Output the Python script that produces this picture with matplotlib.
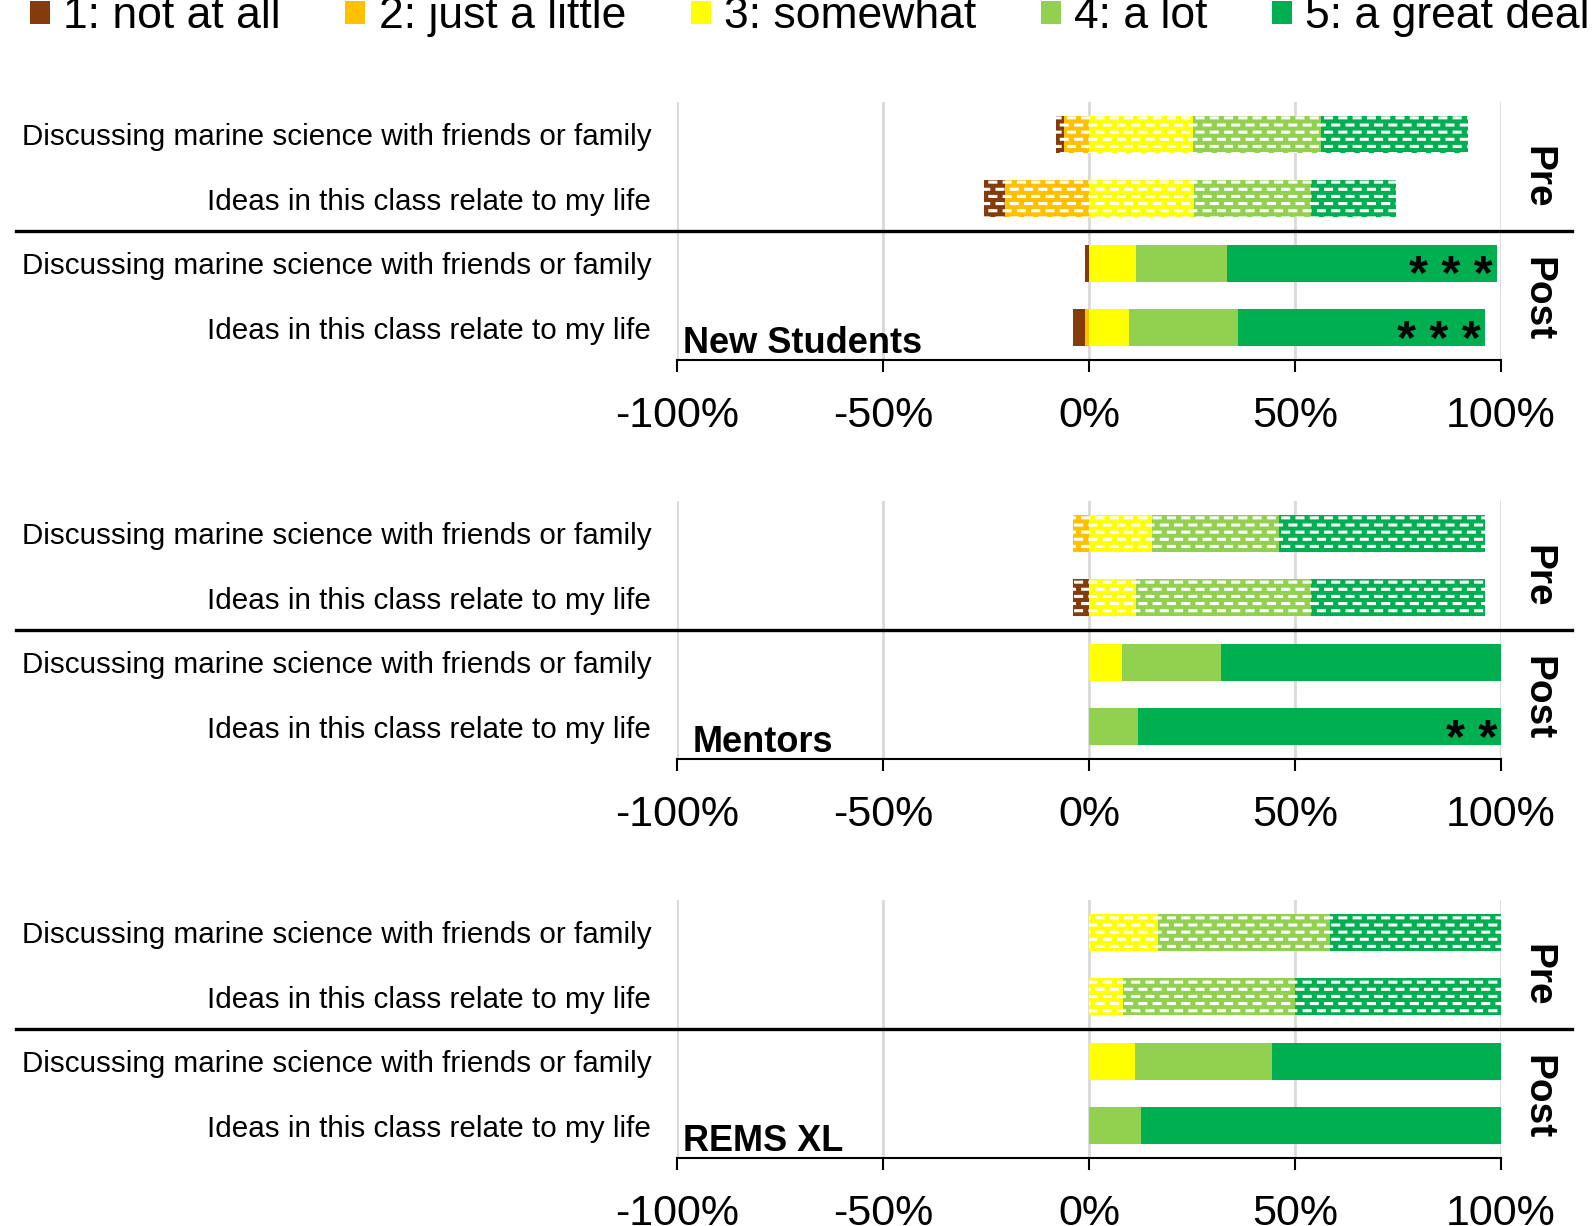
import numpy as np
import matplotlib
matplotlib.use("Agg")
import matplotlib.pyplot as plt
import matplotlib.hatch as mhatch
import matplotlib.transforms as mtransforms
from matplotlib.patches import Patch
from matplotlib.path import Path

# ---------------- data ----------------
levels = ["1: not at all", "2: just a little", "3: somewhat", "4: a lot", "5: a great deal"]
level_colors = ["#843C0C", "#FFC000", "#FFFF00", "#92D050", "#00B050"]
items = ["Discussing marine science with friends or family",
         "Ideas in this class relate to my life"]
phases = ["Pre", "Post"]
groups = ["New Students", "Mentors", "REMS XL"]

# percent of responses per level (1..5) for [Discussing, Ideas]
new_students_pre = [[1.9, 6.0, 25.3, 31.0, 35.8], [4.9, 20.5, 25.5, 28.3, 20.7]]
new_students_post = [[1.0, 0.0, 11.4, 22.1, 65.5], [2.9, 1.0, 9.8, 26.4, 59.9]]
mentors_pre = [[0.0, 3.8, 15.4, 30.8, 50.0], [3.8, 0.0, 11.5, 42.3, 42.3]]
mentors_post = [[0.0, 0.0, 8.0, 24.0, 68.0], [0.0, 0.0, 0.0, 12.0, 88.0]]
rems_pre = [[0.0, 0.0, 16.7, 41.7, 41.7], [0.0, 0.0, 8.3, 41.7, 50.0]]
rems_post = [[0.0, 0.0, 11.1, 33.3, 55.6], [0.0, 0.0, 0.0, 12.5, 87.5]]

new_students_sig = ["", "", "***", "***"]
mentors_sig = ["", "", "", "**"]
rems_sig = ["", "", "", ""]

xticks = [-100, -50, 0, 50, 100]
xtick_labels = ["-100%", "-50%", "0%", "50%", "100%"]

panels = [
    (groups[0], new_students_pre, new_students_post, new_students_sig),
    (groups[1], mentors_pre, mentors_post, mentors_sig),
    (groups[2], rems_pre, rems_post, rems_sig),
]


# ---------------- custom dashed "brick" hatch (replaces 'o') ----------------
class BrickDashes(mhatch.HatchPatternBase):
    ROWS = 14
    COLS = 7
    L = 0.42

    def __init__(self, hatch, density):
        self.on = "o" in hatch
        R, C = self.ROWS, self.COLS
        self.num_vertices = 2 * ((R // 2) * C + (R // 2) * (C + 1)) if self.on else 0

    def set_vertices_and_codes(self, vertices, codes):
        R, C, L = self.ROWS, self.COLS, self.L
        segs = []
        for r in range(R):
            y = (r + 0.5) / R
            if r % 2 == 0:
                for c in range(C):
                    x0 = (c + (1 - L) / 2) / C
                    segs.append((x0, x0 + L / C, y))
            else:
                for c in range(C - 1):
                    x0 = (c + 0.5 + (1 - L) / 2) / C
                    segs.append((x0, x0 + L / C, y))
                segs.append((0.0, (L / 2) / C, y))
                segs.append(((C - L / 2) / C, 1.0, y))
        segs = np.array(segs)
        vertices[0::2, 0] = segs[:, 0]
        vertices[0::2, 1] = segs[:, 2]
        vertices[1::2, 0] = segs[:, 1]
        vertices[1::2, 1] = segs[:, 2]
        codes[0::2] = Path.MOVETO
        codes[1::2] = Path.LINETO


mhatch._hatch_types = [BrickDashes if t is mhatch.SmallCircles else t
                       for t in mhatch._hatch_types]

plt.rcParams["font.family"] = ["Liberation Sans", "DejaVu Sans"]
plt.rcParams["hatch.color"] = "white"
plt.rcParams["hatch.linewidth"] = 2.2

W, H = 1595, 1226
fig = plt.figure(figsize=(W / 100, H / 100), dpi=100)

ax_left, ax_right = 677, 1501
ax_h = 258
tops = [102, 501, 900]
bar_h = 0.57
title_x = [-98.5, -96.3, -98.5]

for p, (gname, pre, post, sig) in enumerate(panels):
    top = tops[p]
    ax = fig.add_axes([ax_left / W, 1 - (top + ax_h) / H, (ax_right - ax_left) / W, ax_h / H])
    rows = [(pre[0], True), (pre[1], True), (post[0], False), (post[1], False)]
    for i, (vals, is_pre) in enumerate(rows):
        start = -(vals[0] + vals[1])
        for k in range(5):
            ax.barh(i, vals[k], left=start, height=bar_h, color=level_colors[k],
                    hatch="o" if is_pre else None, linewidth=0, zorder=2)
            start += vals[k]
        if sig[i]:
            ax.text(start - 1.0, i + 0.40, " ".join(sig[i]), ha="right", va="baseline",
                    fontsize=35, fontweight="bold", color="black", zorder=3)
    ax.set_xlim(-100, 100)
    ax.set_ylim(3.5, -0.5)
    ax.set_yticks(range(4))
    ax.set_yticklabels(items + items)
    ax.tick_params(axis="y", length=0, pad=18.5, labelsize=21.3)
    ax.set_xticks(xticks)
    ax.set_xticklabels(xtick_labels)
    ax.tick_params(axis="x", direction="out", length=8.6, width=1.5, pad=17,
                   labelsize=31, color="black")
    for s in ["top", "right", "left"]:
        ax.spines[s].set_visible(False)
    ax.spines["bottom"].set_linewidth(1.5)
    ax.spines["bottom"].set_color("black")
    ax.xaxis.grid(True, color="#D9D9D9", linewidth=2)
    ax.set_axisbelow(True)

    # separator between Pre and Post
    trans = mtransforms.blended_transform_factory(fig.transFigure, ax.transData)
    ax.plot([16 / W, 1572 / W], [1.5, 1.5], color="black", lw=2.4,
            transform=trans, clip_on=False, zorder=4)

    # Pre / Post labels
    trans2 = mtransforms.blended_transform_factory(ax.transAxes, ax.transData)
    ax.text(1.0437, 0.67, phases[0], rotation=270, ha="center", va="center",
            fontsize=28, fontweight="bold", transform=trans2)
    ax.text(1.0437, 2.56, phases[1], rotation=270, ha="center", va="center",
            fontsize=28, fontweight="bold", transform=trans2)

    # group title
    ax.text(title_x[p], 3.39, gname, ha="left", va="baseline",
            fontsize=26, fontweight="bold", zorder=3)

handles = [Patch(facecolor=c, edgecolor="none") for c in level_colors]
fig.legend(handles, levels, loc="upper left", bbox_to_anchor=(30 / W, 1.003),
           ncol=5, frameon=False, fontsize=32, handlelength=0.45, handleheight=0.45,
           handletextpad=0.3, columnspacing=1.45, borderpad=0, borderaxespad=0)

fig.savefig("out.png", dpi=100)
